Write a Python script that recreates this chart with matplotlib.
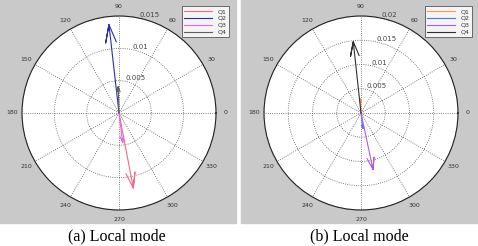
import numpy as np
import matplotlib
matplotlib.use("Agg")
import matplotlib.pyplot as plt
from matplotlib.patches import Rectangle

# compass vectors (angle in degrees, magnitude)
series = ["Q1", "Q2", "Q3", "Q4"]

angles_a = [280.8, 96.5, 277.0, 91.5]
mags_a = [0.0118, 0.01375, 0.0046, 0.0041]
colors_a = ["#f06a8a", "#2c2ca8", "#f060f0", "#606060"]
rings_a = [0.005, 0.01, 0.015]
ring_labels_a = ["0.005", "0.01", "0.015"]

angles_b = [92.0, 277.0, 282.0, 96.2]
mags_b = [0.0029, 0.0032, 0.0119, 0.0148]
colors_b = ["#ff9a50", "#4a78e8", "#b458e8", "#303030"]
rings_b = [0.005, 0.01, 0.015, 0.02]
ring_labels_b = ["0.005", "0.01", "0.015", "0.02"]

angle_ticks = list(range(0, 360, 30))
captions = ["(a) Local mode", "(b) Local mode"]

W, H = 478, 246
GRAY = "#c9c9c9"


def compass(ax, angles, mags, colors, rings, ring_labels):
    rmax = rings[-1]
    handles = []
    for name, a, m, c in zip(series, angles, mags, colors):
        z = m * np.exp(1j * np.radians(a))
        # matlab style arrow: shaft + open head
        pts = z * np.array([0, 1, 0.8 + 0.06j, 1, 0.8 - 0.06j])
        h, = ax.plot(np.angle(pts), np.abs(pts), color=c, lw=0.8, label=name)
        handles.append(h)

    ax.set_ylim(0, rmax)
    ax.set_xticks(np.radians(angle_ticks))
    ax.set_xticklabels([])
    ax.set_yticks(rings)
    ax.set_yticklabels(ring_labels, fontsize=5, color="#444444")
    ax.set_rlabel_position(78)
    ax.grid(True, linestyle=":", color="#555555", lw=0.6)
    ax.spines["polar"].set_color("#222222")
    ax.spines["polar"].set_linewidth(0.8)
    ax.set_facecolor("white")
    for t in angle_ticks:
        ax.text(np.radians(t), rmax * 1.1, str(t), fontsize=4.5,
                color="#333333", ha="center", va="center", clip_on=False)
    return handles


fig = plt.figure(figsize=(W / 100, H / 100), dpi=100)

# gray matlab figure panels
fig.patches.append(Rectangle((0, 1 - 223 / H), 236 / W, 223 / H,
                             transform=fig.transFigure, color=GRAY, zorder=-10))
fig.patches.append(Rectangle((241 / W, 1 - 223 / H), (W - 241) / W, 223 / H,
                             transform=fig.transFigure, color=GRAY, zorder=-10))

R = 97
panels = [
    (119, angles_a, mags_a, colors_a, rings_a, ring_labels_a, 232),
    (361, angles_b, mags_b, colors_b, rings_b, ring_labels_b, 475),
]
for i, (cx, ang, mag, col, rings, rl, leg_x) in enumerate(panels):
    cy = H - 113
    ax = fig.add_axes([(cx - R) / W, (cy - R) / H, 2 * R / W, 2 * R / H],
                      projection="polar")
    hs = compass(ax, ang, mag, col, rings, rl)
    leg = fig.legend(handles=hs, loc="upper right", fontsize=4.5,
                     bbox_to_anchor=(leg_x / W, 1 - 3 / H),
                     frameon=True, fancybox=False, handlelength=4.5,
                     borderpad=0.4, labelspacing=0.25)
    leg.get_frame().set_edgecolor("#333333")
    leg.get_frame().set_linewidth(0.6)
    for t in leg.get_texts():
        t.set_color("#333333")
    fig.text((cx - 2) / W, 1 - 236 / H, captions[i], fontsize=11.5,
             family="Liberation Serif", ha="center", va="center")

fig.savefig("out.png", dpi=100)
